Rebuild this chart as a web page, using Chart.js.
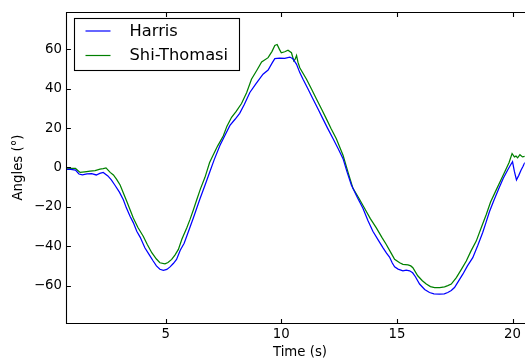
<!DOCTYPE html>
<html>
<head>
<meta charset="utf-8">
<script src="https://cdn.jsdelivr.net/npm/chart.js@4"></script>
<style>
  html, body { margin: 0; padding: 0; background: #fff; overflow: hidden; }
  canvas { display: block; }
</style>
</head>
<body>
<canvas id="anglesChart" width="525" height="363"></canvas>
<script>
// values
const harrisTime = [0.69, 0.9, 1.1, 1.25, 1.4, 1.6, 1.8, 2.0, 2.15, 2.3, 2.5, 2.65, 2.8, 3.0, 3.17, 3.3, 3.46, 3.6, 3.75, 3.9,
    4.1, 4.3, 4.46, 4.6, 4.75, 4.9, 5.05, 5.19, 5.33, 5.47, 5.63, 5.8, 6.0, 6.2, 6.48, 6.7, 6.91, 7.1, 7.35, 7.55,
    7.78, 8.0, 8.2, 8.4, 8.64, 8.9, 9.21, 9.43, 9.6, 9.72, 9.93, 10.15, 10.37, 10.5, 10.66, 10.8, 10.94, 11.15, 11.37, 11.6,
    11.8, 12.0, 12.24, 12.45, 12.67, 12.85, 13.03, 13.3, 13.53, 13.75, 13.96, 14.2, 14.4, 14.55, 14.68, 14.8, 14.9, 15.05, 15.26, 15.4,
    15.55, 15.68, 15.8, 15.98, 16.2, 16.41, 16.6, 16.84, 17.05, 17.2, 17.35, 17.49, 17.65, 17.85, 18.05, 18.28, 18.5, 18.71, 18.85, 19.0,
    19.2, 19.43, 19.6, 19.79, 19.9, 20.0, 20.08, 20.17, 20.27, 20.37, 20.45, 20.53, 20.7];
const harrisAngle = [-1.0, -1.0, -1.3, -3.3, -3.8, -3.3, -3.1, -3.8, -3.0, -2.5, -4.3, -6.3, -8.9, -12.5, -16.4, -20.5, -24.8, -28.0, -32.4, -35.5,
    -40.8, -44.5, -47.5, -50.0, -51.7, -52.2, -51.8, -50.5, -48.8, -46.7, -42.0, -38.5, -32.0, -25.5, -16.0, -9.0, -2.2, 4.0, 11.3, 16.0,
    21.4, 24.5, 27.5, 32.0, 38.1, 42.5, 47.4, 49.5, 53.0, 55.3, 55.6, 55.4, 56.1, 55.3, 52.4, 48.2, 44.8, 40.0, 34.8, 29.5,
    24.7, 20.0, 14.6, 9.8, 4.5, -2.5, -8.9, -15.5, -20.7, -27.0, -32.4, -37.0, -40.8, -43.5, -45.5, -48.5, -50.5, -51.6, -52.5, -52.2,
    -52.5, -53.5, -55.5, -59.2, -62.0, -63.5, -64.2, -64.3, -64.2, -63.5, -62.5, -61.0, -58.0, -54.2, -50.0, -45.8, -39.5, -33.0, -28.0, -22.5,
    -16.5, -10.0, -5.5, -1.3, 1.0, 2.9, -2.0, -6.3, -4.0, -1.3, 0.5, 2.5, 4.0];

const shiTime = [0.69, 0.9, 1.1, 1.2, 1.3, 1.5, 1.73, 1.95, 2.16, 2.3, 2.42, 2.52, 2.6, 2.74, 2.88, 3.03, 3.17, 3.32, 3.46, 3.6,
    3.8, 4.03, 4.2, 4.4, 4.6, 4.75, 4.97, 5.1, 5.26, 5.4, 5.55, 5.7, 5.91, 6.05, 6.2, 6.34, 6.5, 6.7, 6.9, 7.06,
    7.25, 7.49, 7.65, 7.85, 8.05, 8.28, 8.5, 8.71, 8.95, 9.15, 9.43, 9.6, 9.72, 9.82, 9.92, 10.0, 10.15, 10.29, 10.44, 10.54,
    10.6, 10.66, 10.72, 10.8, 11.09, 11.3, 11.52, 11.75, 11.95, 12.15, 12.38, 12.67, 12.9, 13.1, 13.35, 13.6, 13.85, 14.11, 14.35, 14.54,
    14.75, 14.9, 15.12, 15.26, 15.48, 15.6, 15.69, 15.9, 16.1, 16.27, 16.45, 16.63, 16.85, 17.06, 17.2, 17.35, 17.57, 17.8, 18.0, 18.2,
    18.43, 18.65, 18.86, 19.05, 19.29, 19.45, 19.65, 19.85, 19.98, 20.08, 20.15, 20.22, 20.32, 20.43, 20.53, 20.7];
const shiAngle = [-0.3, -0.4, -0.5, -1.5, -2.5, -2.2, -1.8, -1.6, -0.8, -0.6, -0.2, -1.5, -2.5, -3.8, -6.0, -8.9, -13.0, -17.3, -21.5, -25.7,
    -30.5, -34.9, -39.0, -43.3, -46.5, -48.4, -48.9, -48.3, -46.7, -44.5, -41.6, -36.5, -30.7, -26.5, -21.5, -16.5, -11.0, -5.0, 2.5, 6.5,
    11.0, 16.0, 21.0, 25.5, 28.5, 32.5, 38.0, 44.8, 49.5, 53.6, 55.8, 59.0, 62.0, 62.5, 60.0, 58.3, 58.8, 59.6, 58.3, 54.1,
    55.0, 56.9, 53.5, 50.7, 44.8, 40.0, 34.8, 29.5, 24.7, 19.8, 14.6, 6.2, -3.0, -10.6, -15.5, -20.7, -26.0, -30.7, -35.5, -39.1,
    -43.5, -46.6, -48.4, -49.2, -49.5, -50.0, -50.9, -55.0, -57.5, -59.2, -60.5, -61.0, -61.0, -60.6, -60.0, -59.2, -55.9, -51.5, -47.5, -42.5,
    -37.4, -30.5, -24.0, -17.5, -11.5, -7.5, -2.5, 2.5, 7.1, 5.4, 5.8, 4.9, 6.5, 5.4, 5.6, 6.0];

const xTicks = [5, 10, 15, 20];
const yTicks = [-60, -40, -20, 0, 20, 40, 60];
const xTitle = 'Time (s)';
const yTitle = 'Angles (°)';

const FONT = 'DejaVu Sans';

const toPoints = (xs, ys) => xs.map((x, i) => ({ x, y: ys[i] }));
const minusSign = v => String(v).replace('-', '\u2212');

// matplotlib-like frame with inward ticks, the x title, and the boxed legend in the top-left corner
const framePlugin = {
    id: 'frame',
    afterDatasetsDraw(chart) {
        const { ctx, chartArea: area, scales } = chart;
        const left = Math.round(area.left) + 0.5;
        const top = Math.round(area.top) + 0.5;
        const bottom = Math.round(area.bottom) + 0.5;
        const right = area.right + 2;
        ctx.save();
        ctx.strokeStyle = '#000';
        ctx.lineWidth = 1.1;
        ctx.beginPath();
        ctx.moveTo(right, top);
        ctx.lineTo(left, top);
        ctx.lineTo(left, bottom);
        ctx.lineTo(right, bottom);
        ctx.stroke();

        const tick = 4.4;
        ctx.beginPath();
        xTicks.forEach(v => {
            const px = Math.round(scales.x.getPixelForValue(v)) + 0.5;
            ctx.moveTo(px, bottom); ctx.lineTo(px, bottom - tick);
            ctx.moveTo(px, top); ctx.lineTo(px, top + tick);
        });
        yTicks.forEach(v => {
            const py = Math.round(scales.y.getPixelForValue(v)) + 0.5;
            ctx.moveTo(left, py); ctx.lineTo(left + tick, py);
        });
        ctx.stroke();

        // x title: the original axes ran a little past the cropped right edge, so it sits right of centre
        ctx.fillStyle = '#000';
        ctx.font = '13.3px "' + FONT + '"';
        ctx.textAlign = 'center';
        ctx.textBaseline = 'middle';
        ctx.fillText(xTitle, 300, 353);

        // legend
        const box = { x: 74.5, y: 18.5, w: 165, h: 52 };
        ctx.fillStyle = '#fff';
        ctx.fillRect(box.x, box.y, box.w, box.h);
        ctx.lineWidth = 1.1;
        ctx.strokeRect(box.x, box.y, box.w, box.h);
        ctx.font = '16.3px "' + FONT + '"';
        ctx.textBaseline = 'middle';
        ctx.textAlign = 'left';
        chart.data.datasets.forEach((ds, i) => {
            const y = 31 + i * 24.5;
            ctx.strokeStyle = ds.borderColor;
            ctx.lineWidth = 1.2;
            ctx.beginPath();
            ctx.moveTo(85.5, y);
            ctx.lineTo(110.5, y);
            ctx.stroke();
            ctx.fillStyle = '#000';
            ctx.fillText(ds.label, 129.5, y + 0.5);
        });
        ctx.restore();
    }
};

const tickFont = { family: FONT, size: 13.3 };

new Chart(document.getElementById('anglesChart'), {
    type: 'line',
    data: {
        datasets: [
            {
                label: 'Harris',
                data: toPoints(harrisTime, harrisAngle),
                borderColor: '#0000ff',
                borderWidth: 1.25,
                pointRadius: 0,
                tension: 0,
                fill: false
            },
            {
                label: 'Shi-Thomasi',
                data: toPoints(shiTime, shiAngle),
                borderColor: '#008000',
                borderWidth: 1.25,
                pointRadius: 0,
                tension: 0,
                fill: false
            }
        ]
    },
    options: {
        responsive: false,
        animation: false,
        layout: { padding: { top: 9, right: 0, bottom: 0, left: 0 } },
        plugins: {
            legend: { display: false },
            tooltip: { enabled: false }
        },
        scales: {
            x: {
                type: 'linear',
                min: 0.69,
                max: 20.53,
                grid: { display: false, drawTicks: false },
                border: { display: false },
                afterBuildTicks: scale => { scale.ticks = xTicks.map(v => ({ value: v })); },
                afterFit: scale => { scale.height = 40; },
                ticks: { font: tickFont, color: '#000', padding: 4, maxRotation: 0, autoSkip: false, callback: minusSign },
                title: { display: false }
            },
            y: {
                min: -79,
                max: 79,
                grid: { display: false, drawTicks: false },
                border: { display: false },
                afterBuildTicks: scale => { scale.ticks = yTicks.map(v => ({ value: v })); },
                afterFit: scale => { scale.width = 66; },
                ticks: { font: tickFont, color: '#000', padding: 4, autoSkip: false, callback: minusSign },
                title: { display: true, text: yTitle, font: tickFont, color: '#000', padding: { top: 11, bottom: 0 } }
            }
        }
    },
    plugins: [framePlugin]
});
</script>
</body>
</html>
